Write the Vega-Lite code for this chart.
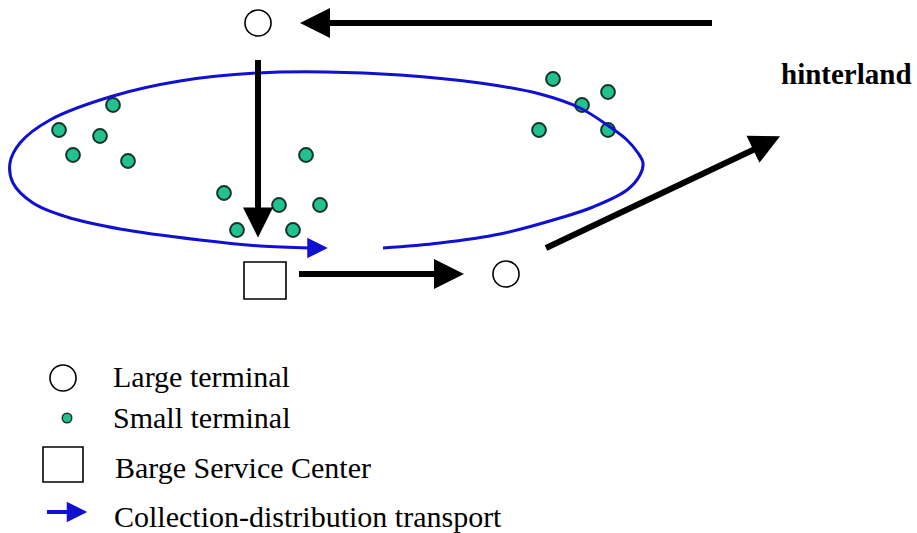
{
  "$schema": "https://vega.github.io/schema/vega-lite/v6.json",
  "width": 917,
  "height": 533,
  "autosize": {"type": "fit", "contains": "padding"},
  "padding": 0,
  "background": "white",
  "config": {"view": {"stroke": null}},
  "datasets": {
    "segments": [
      {"kind": "main", "x": 712, "y": 23, "x2": 328, "y2": 23},
      {"kind": "main", "x": 258, "y": 60, "x2": 258, "y2": 209},
      {"kind": "main", "x": 299, "y": 274, "x2": 437, "y2": 274},
      {"kind": "main", "x": 546, "y": 248, "x2": 755, "y2": 149},
      {"kind": "collection", "x": 47, "y": 512, "x2": 70, "y2": 512}
    ],
    "heads": [
      {"kind": "main", "x": 315, "y": 23, "heading": 180},
      {"kind": "main", "x": 258, "y": 222.5, "heading": 90},
      {"kind": "main", "x": 449, "y": 274, "heading": 0},
      {"kind": "main", "x": 766.5, "y": 142.7, "heading": 334.4},
      {"kind": "collection", "x": 317.5, "y": 248, "heading": 0},
      {"kind": "collection", "x": 77, "y": 512, "heading": 0}
    ],
    "large": [
      {"x": 258, "y": 23},
      {"x": 506, "y": 274},
      {"x": 63, "y": 378}
    ],
    "small": [
      {"role": "map", "x": 113, "y": 105},
      {"role": "map", "x": 59, "y": 130},
      {"role": "map", "x": 100, "y": 136},
      {"role": "map", "x": 73, "y": 155},
      {"role": "map", "x": 128, "y": 161},
      {"role": "map", "x": 306, "y": 155},
      {"role": "map", "x": 224, "y": 193},
      {"role": "map", "x": 279, "y": 205},
      {"role": "map", "x": 320, "y": 205},
      {"role": "map", "x": 237, "y": 230},
      {"role": "map", "x": 293, "y": 230},
      {"role": "map", "x": 553, "y": 79},
      {"role": "map", "x": 608, "y": 92},
      {"role": "map", "x": 582, "y": 105},
      {"role": "map", "x": 539, "y": 130},
      {"role": "map", "x": 608, "y": 130},
      {"role": "legend", "x": 67, "y": 418}
    ],
    "centers": [
      {"x": 244, "y": 262, "x2": 286, "y2": 299},
      {"x": 43, "y": 447, "x2": 83, "y2": 482}
    ],
    "loop": [
      {"order": 0, "x": 383, "y": 248},
      {"order": 1, "x": 440, "y": 243},
      {"order": 2, "x": 500, "y": 234},
      {"order": 3, "x": 560, "y": 218},
      {"order": 4, "x": 593, "y": 207},
      {"order": 5, "x": 627, "y": 190},
      {"order": 6, "x": 640, "y": 175},
      {"order": 7, "x": 643, "y": 163},
      {"order": 8, "x": 638, "y": 153},
      {"order": 9, "x": 627, "y": 140},
      {"order": 10, "x": 610, "y": 127},
      {"order": 11, "x": 580, "y": 108},
      {"order": 12, "x": 540, "y": 94},
      {"order": 13, "x": 480, "y": 83},
      {"order": 14, "x": 400, "y": 75},
      {"order": 15, "x": 326, "y": 72},
      {"order": 16, "x": 258, "y": 73},
      {"order": 17, "x": 180, "y": 81},
      {"order": 18, "x": 113, "y": 96},
      {"order": 19, "x": 50, "y": 120},
      {"order": 20, "x": 20, "y": 143},
      {"order": 21, "x": 10, "y": 163},
      {"order": 22, "x": 13, "y": 183},
      {"order": 23, "x": 33, "y": 203},
      {"order": 24, "x": 67, "y": 217},
      {"order": 25, "x": 120, "y": 229},
      {"order": 26, "x": 200, "y": 240},
      {"order": 27, "x": 260, "y": 246},
      {"order": 28, "x": 310, "y": 248}
    ],
    "labels": [
      {"role": "legend", "text": "Large terminal", "x": 113, "y": 387},
      {"role": "legend", "text": "Small terminal", "x": 113, "y": 428},
      {"role": "legend", "text": "Barge Service Center", "x": 115, "y": 478},
      {"role": "legend", "text": "Collection-distribution transport", "x": 114, "y": 527},
      {"role": "place", "text": "hinterland", "x": 781, "y": 84}
    ]
  },
  "encoding": {
    "x": {"field": "x", "type": "quantitative", "scale": {"domain": [0, 917], "nice": false, "zero": false}, "axis": null},
    "y": {"field": "y", "type": "quantitative", "scale": {"domain": [0, 533], "nice": false, "zero": false, "reverse": true}, "axis": null}
  },
  "layer": [
    {
      "data": {"name": "small"},
      "transform": [{"filter": "datum.role === 'map'"}],
      "mark": {"type": "point", "shape": "circle", "filled": true, "fill": "#22C190", "stroke": "#14342a", "strokeWidth": 2, "size": 190, "opacity": 1}
    },
    {
      "data": {"name": "small"},
      "transform": [{"filter": "datum.role === 'legend'"}],
      "mark": {"type": "point", "shape": "circle", "filled": true, "fill": "#22C190", "stroke": "#14342a", "strokeWidth": 1.5, "size": 90, "opacity": 1}
    },
    {
      "data": {"name": "loop"},
      "mark": {"type": "line", "color": "#1010D0", "strokeWidth": 3, "interpolate": "catmull-rom"},
      "encoding": {"order": {"field": "order", "type": "quantitative"}}
    },
    {
      "data": {"name": "segments"},
      "transform": [{"filter": "datum.kind === 'main'"}],
      "mark": {"type": "rule", "color": "black", "strokeWidth": 6, "strokeCap": "butt"},
      "encoding": {"x2": {"field": "x2"}, "y2": {"field": "y2"}}
    },
    {
      "data": {"name": "segments"},
      "transform": [{"filter": "datum.kind === 'collection'"}],
      "mark": {"type": "rule", "color": "#1010D0", "strokeWidth": 4, "strokeCap": "butt"},
      "encoding": {"x2": {"field": "x2"}, "y2": {"field": "y2"}}
    },
    {
      "data": {"name": "heads"},
      "transform": [{"filter": "datum.kind === 'main'"}],
      "mark": {"type": "point", "shape": "M-1,-1L1,0L-1,1Z", "filled": true, "color": "black", "size": 900, "opacity": 1},
      "encoding": {"angle": {"field": "heading", "type": "quantitative", "scale": null}}
    },
    {
      "data": {"name": "heads"},
      "transform": [{"filter": "datum.kind === 'collection'"}],
      "mark": {"type": "point", "shape": "M-1,-1L1,0L-1,1Z", "filled": true, "color": "#1010D0", "size": 420, "opacity": 1},
      "encoding": {"angle": {"field": "heading", "type": "quantitative", "scale": null}}
    },
    {
      "data": {"name": "large"},
      "mark": {"type": "point", "shape": "circle", "filled": true, "fill": "white", "stroke": "black", "strokeWidth": 1.6, "size": 680, "opacity": 1}
    },
    {
      "data": {"name": "centers"},
      "mark": {"type": "rect", "fill": "white", "stroke": "black", "strokeWidth": 1.6},
      "encoding": {"x2": {"field": "x2"}, "y2": {"field": "y2"}}
    },
    {
      "data": {"name": "labels"},
      "transform": [{"filter": "datum.role === 'legend'"}],
      "mark": {"type": "text", "font": "Liberation Serif", "fontSize": 30, "align": "left", "baseline": "alphabetic", "color": "black"},
      "encoding": {"text": {"field": "text"}}
    },
    {
      "data": {"name": "labels"},
      "transform": [{"filter": "datum.role === 'place'"}],
      "mark": {"type": "text", "font": "Liberation Serif", "fontSize": 29, "fontWeight": "bold", "align": "left", "baseline": "alphabetic", "color": "black"},
      "encoding": {"text": {"field": "text"}}
    }
  ]
}
